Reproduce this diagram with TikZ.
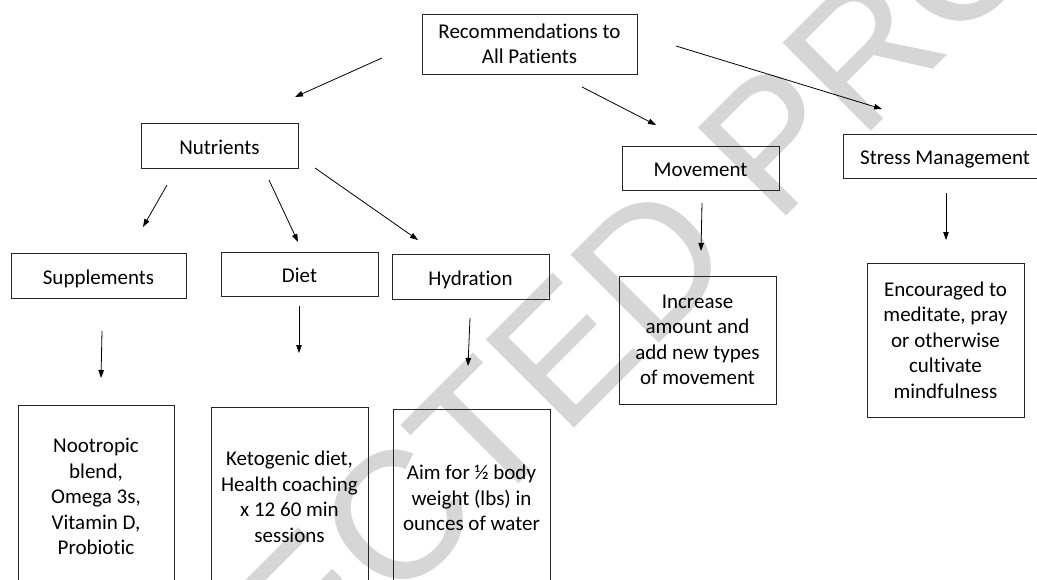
\documentclass[tikz,border=0pt]{standalone}
\usepackage{fontspec}
\setmainfont{Carlito}[Ligatures=CommonOff]
\newfontfamily\wmfont{Liberation Sans}[BoldFont=Liberation Sans,BoldFeatures={FakeBold=0.3}]
\usetikzlibrary{arrows.meta}
\begin{document}
\begin{tikzpicture}[x=1pt,y=-1pt,
  every node/.style={inner sep=0pt,align=center,font=\fontsize{21}{25.5}\selectfont},
  box/.style={draw=black!85,line width=0.9pt},
  one/.style={text height=17pt,text depth=0pt},
  arr/.style={-{Triangle[length=8pt,width=5.5pt]},line width=0.8pt,black},
  wm/.style={text=black!16,font=\wmfont\bfseries\fontsize{180}{180}\selectfont}
]
\useasboundingbox (0,0) rectangle (1037,579);
\fill[white] (0,0) rectangle (1037,579);
\clip (0,0) rectangle (1037,579);
% watermark
\node[wm,rotate=45,anchor=base west] (wmark) at (-66,1067) {CORRECTED PROOF};
% boxes
\node[box,minimum width=215pt,minimum height=60pt] (rec) at (529.5,44) {Recommendations to\\All Patients};
\node[box,one,minimum width=157pt,minimum height=45pt] (nut) at (219.5,145.5) {Nutrients};
\node[box,one,minimum width=175pt,minimum height=45pt] (sup) at (98.5,275.5) {Supplements};
\node[box,one,minimum width=157pt,minimum height=44pt] (diet) at (299.5,274) {Diet};
\node[box,one,minimum width=157pt,minimum height=45pt] (hyd) at (470.5,276.5) {Hydration};
\node[box,one,minimum width=157pt,minimum height=44pt] (mov) at (700.5,168) {Movement};
\node[box,one,minimum width=204pt,minimum height=44pt] (str) at (945,156) {Stress Management};
\node[box,minimum width=157pt,minimum height=128pt] (movt) at (697.5,340) {Increase\\amount and\\add new types\\of movement};
\node[box,minimum width=157pt,minimum height=154pt] (strt) at (945.5,340) {Encouraged to\\meditate, pray\\or otherwise\\cultivate\\mindfulness};
\node[box,minimum width=156pt,minimum height=183pt] (supt) at (96,496.5) {Nootropic\\blend,\\Omega 3s,\\Vitamin D,\\Probiotic};
\node[box,minimum width=157pt,minimum height=180pt] (dictt) at (289.5,497) {Ketogenic diet,\\Health coaching\\x 12 60 min\\sessions};
\node[box,minimum width=157pt,minimum height=178pt] (hydt) at (471.5,498) {Aim for ½ body\\weight (lbs) in\\ounces of water};
% connector end points
\coordinate (a1s) at (382,58);  \coordinate (a1e) at (295,97);
\coordinate (a2s) at (582,87);  \coordinate (a2e) at (656,125);
\coordinate (a3s) at (676,46);  \coordinate (a3e) at (882,109);
\coordinate (a4s) at (167,185); \coordinate (a4e) at (143,227);
\coordinate (a5s) at (269,180); \coordinate (a5e) at (298,242);
\coordinate (a6s) at (315,168); \coordinate (a6e) at (418,240);
\coordinate (a7s) at (102,331); \coordinate (a7e) at (101,378);
\coordinate (a8s) at (299,306); \coordinate (a8e) at (299,353);
\coordinate (a9s) at (470,318); \coordinate (a9e) at (468,366);
\coordinate (a10s) at (702,203); \coordinate (a10e) at (701,251);
\coordinate (a11s) at (946,193); \coordinate (a11e) at (946,240);
\foreach \i in {1,...,11} {\draw[arr] (a\i s) -- (a\i e);}
\end{tikzpicture}
\end{document}
